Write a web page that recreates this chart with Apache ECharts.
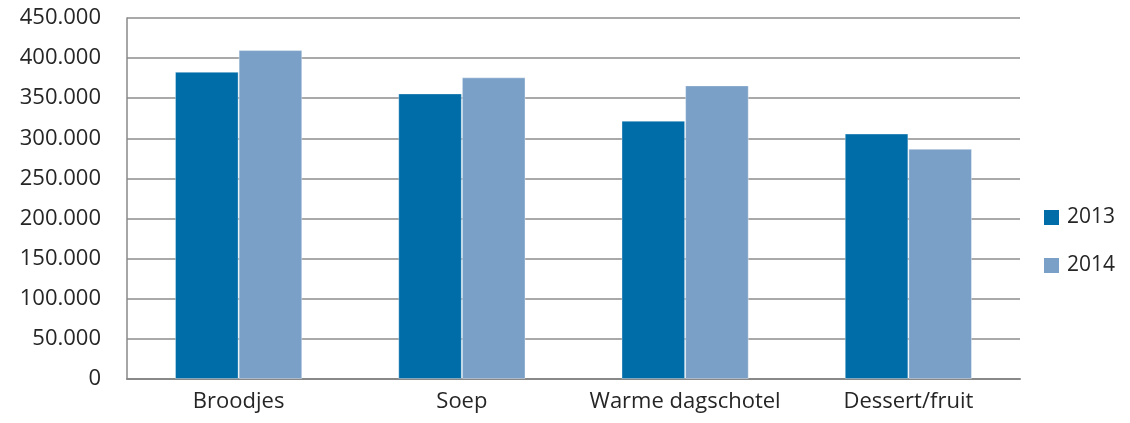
<!DOCTYPE html>
<html>
<head>
<meta charset="utf-8">
<script src="https://cdn.jsdelivr.net/npm/echarts@6/dist/echarts.min.js"></script>
<style>
html,body{margin:0;padding:0;background:#fff;}
#chart{width:1130px;height:423px;}
</style>
</head>
<body>
<div id="chart"></div>
<script>
const categories = ['Broodjes', 'Soep', 'Warme dagschotel', 'Dessert/fruit'];
const seriesNames = ['2013', '2014'];
const values2013 = [383000, 356000, 322000, 306000];
const values2014 = [410000, 376000, 366000, 287000];
const yTicks = { min: 0, max: 450000, interval: 50000 };

const fontFamily = '"Open Sans", "Noto Sans", sans-serif';
const textColor = '#262626';

function fmt(v) {
  return String(v).replace(/\B(?=(\d{3})+(?!\d))/g, '.');
}

const chart = echarts.init(document.getElementById('chart'));
chart.setOption({
  animation: false,
  backgroundColor: '#ffffff',
  grid: { left: 127, right: 110, top: 18, bottom: 44, containLabel: false },
  legend: {
    orient: 'vertical',
    left: 1039,
    top: 202,
    itemWidth: 15,
    itemHeight: 15,
    itemGap: 27,
    itemStyle: { borderWidth: 0 },
    icon: 'rect',
    data: seriesNames,
    textStyle: { fontFamily: fontFamily, fontSize: 21, color: textColor, padding: [0, 0, 0, 3] }
  },
  xAxis: {
    type: 'category',
    data: categories,
    axisLine: { lineStyle: { color: '#888888', width: 2 } },
    axisTick: { show: false },
    axisLabel: { fontFamily: fontFamily, fontSize: 22, color: textColor, margin: 12, interval: 0 }
  },
  yAxis: {
    type: 'value',
    min: yTicks.min,
    max: yTicks.max,
    interval: yTicks.interval,
    axisLine: { show: true, lineStyle: { color: '#888888', width: 1.5 } },
    axisTick: { show: false },
    splitLine: { lineStyle: { color: '#8c8c8c', width: 1.5 } },
    axisLabel: { fontFamily: fontFamily, fontSize: 22, color: textColor, margin: 26, formatter: fmt }
  },
  series: [
    {
      name: seriesNames[0],
      type: 'bar',
      data: values2013,
      barGap: '0%',
      barCategoryGap: '43%',
      itemStyle: { color: '#006da8', borderColor: 'rgba(255,255,255,0.35)', borderWidth: 1 }
    },
    {
      name: seriesNames[1],
      type: 'bar',
      data: values2014,
      barGap: '0%',
      barCategoryGap: '43%',
      itemStyle: { color: '#7ba0c7', borderColor: 'rgba(255,255,255,0.35)', borderWidth: 1 }
    }
  ]
});
</script>
</body>
</html>
